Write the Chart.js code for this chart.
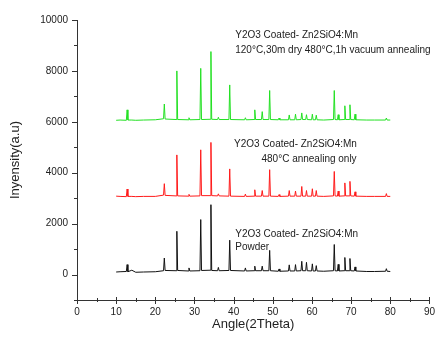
<!DOCTYPE html>
<html>
<head>
<meta charset="utf-8">
<script src="https://cdn.jsdelivr.net/npm/chart.js@4.4.1/dist/chart.umd.min.js"></script>
<style>
  html, body { margin: 0; padding: 0; background: #fff; }
  #wrap { width: 441px; height: 345px; }
</style>
</head>
<body>
<div id="wrap"><canvas id="xrd-chart" width="441" height="345"></canvas></div>
<script>
// diffraction angles (2 theta), shared by the three patterns
const angles = [
  10, 11, 12.6, 12.8, 13.0, 14, 15, 17, 20,
  22.1, 22.3, 22.5, 25.3, 25.5, 25.7, 28.4, 28.6, 28.8,
  31.4, 31.6, 31.8, 34.0, 34.2, 34.4, 35.9, 36.1, 36.3,
  38.8, 39.0, 39.2, 42.8, 43.0, 43.2, 45.2, 45.4, 45.6,
  47.1, 47.3, 47.5, 49.0, 49.2, 49.4, 51.4, 51.6, 51.8,
  54.0, 54.2, 54.4, 55.6, 55.8, 56.0, 57.2, 57.4, 57.6,
  58.4, 58.6, 58.8, 59.9, 60.1, 60.3, 60.9, 61.1, 61.3,
  63, 65.5, 65.7, 65.9, 66.5, 66.7, 66.9,
  68.2, 68.4, 68.6, 69.5, 69.7, 69.9, 70.8, 71.0, 71.2,
  74, 76, 78.8, 79.0, 79.2, 80
];

const powderCounts = [
  100, 110, 120, 390, 110, 170, 90, 100, 110,
  150, 650, 160, 150, 1700, 160, 140, 260, 140,
  150, 2160, 160, 170, 2745, 160, 150, 280, 150,
  160, 1350, 160, 140, 260, 140, 150, 330, 150,
  150, 330, 150, 150, 950, 150, 130, 220, 130,
  140, 380, 140, 140, 390, 140, 150, 520, 150,
  150, 480, 150, 140, 420, 140, 140, 350, 140,
  130, 150, 1180, 150, 140, 400, 140,
  150, 670, 150, 150, 630, 150, 140, 300, 140,
  120, 120, 130, 230, 130, 120
];

const annealedCounts = [
  3080, 3070, 3060, 3360, 3070, 3070, 3060, 3070, 3070,
  3120, 3570, 3110, 3090, 4700, 3090, 3080, 3150, 3080,
  3090, 4900, 3100, 3100, 5190, 3100, 3090, 3170, 3090,
  3080, 4150, 3080, 3070, 3160, 3070, 3080, 3330, 3080,
  3080, 3300, 3080, 3080, 4120, 3080, 3070, 3140, 3070,
  3080, 3300, 3080, 3080, 3280, 3080, 3080, 3460, 3080,
  3080, 3300, 3080, 3080, 3370, 3080, 3080, 3300, 3080,
  3070, 3090, 4050, 3090, 3080, 3280, 3080,
  3090, 3600, 3090, 3090, 3660, 3090, 3080, 3250, 3080,
  3070, 3070, 3070, 3180, 3070, 3070
];

const vacuumCounts = [
  6060, 6070, 6060, 6470, 6070, 6070, 6060, 6070, 6080,
  6120, 6700, 6110, 6090, 8000, 6090, 6080, 6160, 6080,
  6090, 8100, 6090, 6100, 8760, 6100, 6090, 6180, 6090,
  6090, 7450, 6090, 6080, 6160, 6080, 6090, 6470, 6090,
  6090, 6400, 6090, 6090, 7230, 6090, 6080, 6150, 6080,
  6080, 6270, 6080, 6080, 6300, 6080, 6090, 6350, 6090,
  6090, 6280, 6090, 6080, 6300, 6080, 6080, 6260, 6080,
  6070, 6090, 7230, 6090, 6080, 6280, 6080,
  6090, 6630, 6090, 6090, 6670, 6090, 6080, 6300, 6080,
  6070, 6070, 6070, 6150, 6070, 6070
];

const xTicks = [0, 5, 10, 15, 20, 25, 30, 35, 40, 45, 50, 55, 60, 65, 70, 75, 80, 85, 90];
const yTicks = [-1000, 0, 1000, 2000, 3000, 4000, 5000, 6000, 7000, 8000, 9000, 10000];

// sample labels: [angle, intensity, text]
const labels = [
  [40.4, 9420, 'Y2O3 Coated- Zn2SiO4:Mn'],
  [40.4, 8830, '120\u00B0C,30m dry 480\u00B0C,1h vacuum annealing'],
  [40.1, 5100, 'Y2O3 Coated- Zn2SiO4:Mn'],
  [47.1, 4510, '480\u00B0C annealing only'],
  [40.4, 1570, 'Y2O3 Coated- Zn2SiO4:Mn'],
  [40.4, 1060, 'Powder']
];

function toPoints(values) {
  return angles.map((a, i) => ({ x: a, y: values[i] }));
}

const axisColor = '#333';
const fontFamily = '"Liberation Sans", Arial, sans-serif';

const ticksAndLabels = {
  id: 'ticksAndLabels',
  afterDatasetsDraw(chart) {
    const ctx = chart.ctx;
    const xs = chart.scales.x;
    const ys = chart.scales.y;
    ctx.save();
    ctx.strokeStyle = axisColor;
    ctx.lineWidth = 1;
    ctx.beginPath();
    xTicks.forEach(v => {
      const px = Math.round(xs.getPixelForValue(v)) + 0.5;
      const major = v % 10 === 0;
      ctx.moveTo(px, xs.top - (major ? 3 : 2));
      ctx.lineTo(px, xs.top + (major ? 4 : 2));
    });
    yTicks.forEach(v => {
      const py = Math.round(ys.getPixelForValue(v)) + 0.5;
      const major = v % 2000 === 0;
      ctx.moveTo(ys.right - (major ? 5 : 3), py);
      ctx.lineTo(ys.right, py);
    });
    ctx.stroke();

    ctx.fillStyle = '#222';
    ctx.font = '10px ' + fontFamily;
    ctx.textBaseline = 'middle';
    ctx.textAlign = 'left';
    labels.forEach(([a, v, text]) => {
      ctx.fillText(text, xs.getPixelForValue(a), ys.getPixelForValue(v));
    });
    ctx.restore();
  }
};

const ctx = document.getElementById('xrd-chart').getContext('2d');
new Chart(ctx, {
  type: 'scatter',
  data: {
    datasets: [
      { label: 'Powder', data: toPoints(powderCounts), borderColor: '#111', order: 3 },
      { label: '480C annealing only', data: toPoints(annealedCounts), borderColor: '#ff1a1a', order: 2 },
      { label: 'vacuum annealing', data: toPoints(vacuumCounts), borderColor: '#22e022', order: 1 }
    ].map(ds => Object.assign(ds, { showLine: true, pointRadius: 0, borderWidth: 1, tension: 0 }))
  },
  options: {
    responsive: false,
    animation: false,
    layout: { padding: { top: 20, right: 9.5, left: 0, bottom: 0 } },
    scales: {
      x: {
        type: 'linear',
        min: 0,
        max: 90,
        afterFit(scale) { scale.height = 45; },
        grid: { display: false, drawTicks: false },
        border: { display: true, color: axisColor, width: 1 },
        ticks: {
          stepSize: 5,
          autoSkip: false,
          maxRotation: 0,
          padding: 6,
          color: '#222',
          font: { family: fontFamily, size: 10 },
          callback: v => (v % 10 === 0 ? v : '')
        },
        title: {
          display: true,
          text: 'Angle(2Theta)',
          color: '#222',
          font: { family: fontFamily, size: 13 },
          padding: { top: 0, bottom: 13 }
        }
      },
      y: {
        min: -1000,
        max: 10000,
        afterFit(scale) { scale.width = 77; },
        grid: { display: false, drawTicks: false },
        border: { display: true, color: axisColor, width: 1 },
        ticks: {
          stepSize: 1000,
          autoSkip: false,
          padding: 9,
          color: '#222',
          font: { family: fontFamily, size: 10 },
          callback: v => (v % 2000 === 0 ? v : '')
        },
        title: {
          display: true,
          text: 'Inyensity(a.u)',
          color: '#222',
          font: { family: fontFamily, size: 13 },
          padding: { top: 8, bottom: 0 }
        }
      }
    },
    plugins: {
      legend: { display: false },
      tooltip: { enabled: false }
    }
  },
  plugins: [ticksAndLabels]
});
</script>
</body>
</html>
